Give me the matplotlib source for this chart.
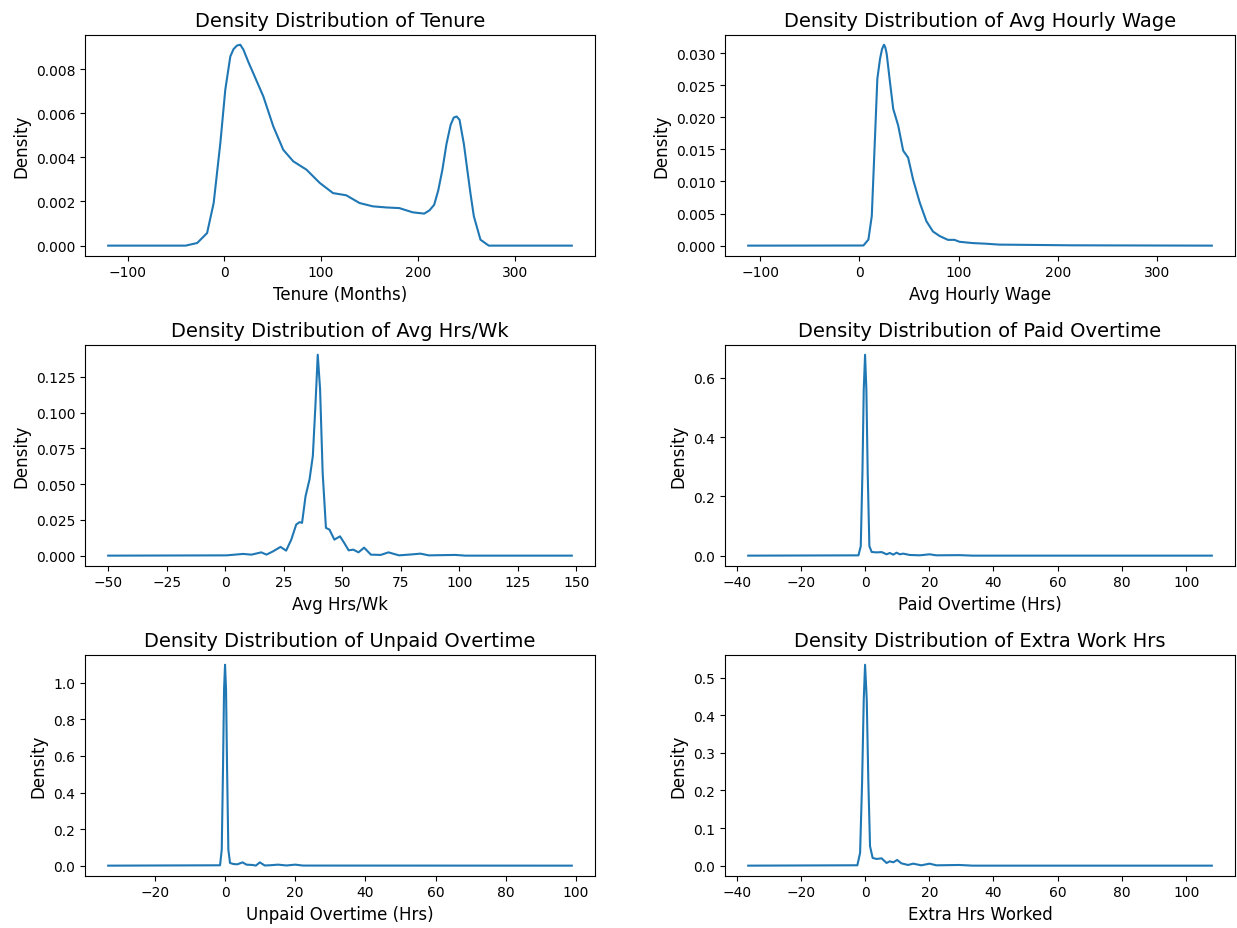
import matplotlib.pyplot as plt

# Density curves (x, density)
tenure_x = [-120, -40, -28, -17.8, -11, -4.1, 1, 6.2, 9.5, 13, 16.5, 19.8, 25, 30, 40.3, 50.6,
            60.9, 71.2, 84.9, 98.6, 112.3, 126, 139.7, 153.4, 167.1, 180.8, 194.5, 206.5, 212,
            216.8, 221, 225.3, 229.5, 233.8, 237, 240, 243, 247.5, 251, 254.5, 257.8, 264.6,
            273.2, 285, 359]
tenure_y = [0, 0, 0.00012, 0.00057, 0.00193, 0.00465, 0.00706, 0.00857, 0.0089, 0.00906,
            0.0091, 0.00887, 0.0083, 0.0078, 0.00676, 0.0054, 0.00434, 0.00382, 0.00344,
            0.00284, 0.00238, 0.00228, 0.00193, 0.00178, 0.00173, 0.0017, 0.00151, 0.00145,
            0.0016, 0.00185, 0.0025, 0.00344, 0.0046, 0.00547, 0.0058, 0.00585, 0.0057, 0.0046,
            0.00344, 0.0023, 0.00133, 0.00027, 0, 0, 0]

wage_x = [-112, 4, 9, 12.4, 15.7, 18, 20.7, 22.7, 24.7, 26, 27.4, 30.7, 34, 39, 44, 49, 54, 60.7,
          67.4, 74, 80.7, 89, 95.7, 100.7, 114, 127.4, 140.7, 180.7, 214, 354.7]
wage_y = [0, 0.00002, 0.00094, 0.0046, 0.0171, 0.026, 0.0291, 0.0306, 0.0313, 0.0309, 0.0299,
          0.0255, 0.0213, 0.0187, 0.0148, 0.0137, 0.0103, 0.0067, 0.0038, 0.0022, 0.0015,
          0.0009, 0.0009, 0.0006, 0.0004, 0.0003, 0.00016, 0.0001, 0.00005, 0]

hrs_x = [-50, 0.6, 7.6, 11.2, 15.4, 17.6, 20.4, 23.6, 26, 28.2, 30.3, 31.7, 32.8, 34.3, 36, 37.4,
         38.5, 39.5, 40.5, 41.6, 43, 44.5, 46.6, 49, 50.8, 52.7, 54.7, 56.9, 59.3, 62.2, 66.4,
         69.7, 74.2, 79.9, 83.4, 86.9, 98.3, 102.5, 148]
hrs_y = [0, 0.0002, 0.0012, 0.0007, 0.0023, 0.0007, 0.003, 0.0061, 0.0035, 0.0112, 0.0217,
         0.0234, 0.0229, 0.0416, 0.0533, 0.0696, 0.1046, 0.1404, 0.1163, 0.0579, 0.0194,
         0.0182, 0.0112, 0.0135, 0.0089, 0.0037, 0.0042, 0.0023, 0.0056, 0.0007, 0.0005,
         0.0023, 0.0002, 0.0009, 0.0014, 0.0002, 0.0005, 0, 0]

paid_x = [-36.4, -2.06, -1.34, -0.82, -0.41, 0, 0.41, 0.82, 1.34, 2.06, 3.6, 5.2, 6.7, 7.7, 8.8,
          9.8, 10.8, 11.9, 13.9, 17, 20.1, 22.2, 29.4, 33.5, 108]
paid_y = [0, 0.001, 0.032, 0.28, 0.56, 0.678, 0.56, 0.28, 0.032, 0.0124, 0.011, 0.012, 0.0045,
          0.009, 0.0034, 0.01, 0.0045, 0.0068, 0.0023, 0.0011, 0.0045, 0.0011, 0.0017, 0, 0]

unpaid_x = [-33.3, -1.42, -0.94, -0.57, -0.28, 0, 0.28, 0.57, 0.94, 1.42, 2.36, 3.5, 5, 6.1, 7.8,
            8.8, 9.9, 11.3, 12.7, 15.1, 17.5, 20, 22.2, 98.8]
unpaid_y = [0, 0.002, 0.088, 0.545, 0.965, 1.099, 0.965, 0.545, 0.088, 0.0146, 0.009, 0.0073,
            0.018, 0.0055, 0.0037, 0.0005, 0.018, 0.001, 0.002, 0.0055, 0.001, 0.0055, 0.0005, 0]

extra_x = [-36.4, -2.4, -1.55, -0.93, -0.41, 0, 0.52, 1.03, 1.55, 2.37, 3.6, 5.15, 6.7, 7.7, 8.8,
           10, 11.3, 13.4, 15, 17.5, 20.1, 22.2, 29.4, 33.5, 108]
extra_y = [0, 0.001, 0.034, 0.22, 0.442, 0.534, 0.442, 0.22, 0.0515, 0.0204, 0.0178, 0.0195,
           0.0071, 0.0115, 0.0089, 0.0151, 0.0062, 0.0018, 0.0053, 0.0009, 0.0053, 0.0009,
           0.0018, 0, 0]

titles = ["Tenure", "Avg Hourly Wage", "Avg Hrs/Wk", "Paid Overtime", "Unpaid Overtime", "Extra Work Hrs"]
xlabels = ["Tenure (Months)", "Avg Hourly Wage", "Avg Hrs/Wk", "Paid Overtime (Hrs)",
           "Unpaid Overtime (Hrs)", "Extra Hrs Worked"]
curves = [(tenure_x, tenure_y), (wage_x, wage_y), (hrs_x, hrs_y),
          (paid_x, paid_y), (unpaid_x, unpaid_y), (extra_x, extra_y)]

fig = plt.figure(figsize=(12.37, 9.29), dpi=100)
lefts = [0.0687, 0.5861]
bottoms = [0.7237, 0.39, 0.0563]

for i, (xs, ys) in enumerate(curves):
    ax = fig.add_axes([lefts[i % 2], bottoms[i // 2], 0.4123, 0.2379])
    ax.plot(xs, ys, color="tab:blue", lw=1.5)
    ax.set_title("Density Distribution of " + titles[i], fontsize=14)
    ax.set_xlabel(xlabels[i], fontsize=12)
    ax.set_ylabel("Density", fontsize=12)

fig.savefig("out.png", dpi=100)
